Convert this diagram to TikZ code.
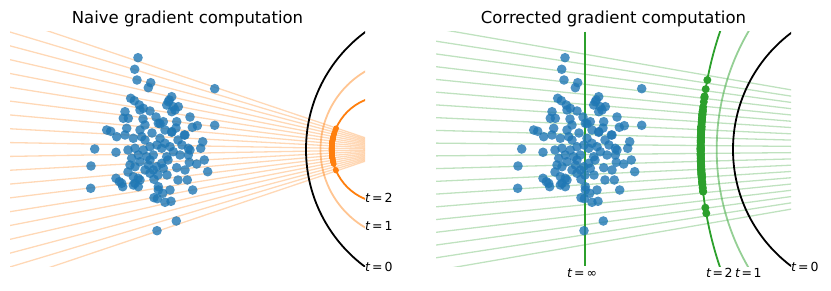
\documentclass[tikz,border=0pt]{standalone}
\usepackage{fontspec}
\setmainfont{DejaVu Sans}[ItalicFont={DejaVu Sans Oblique}]
\definecolor{tabblue}{HTML}{1F77B4}
\definecolor{taborange}{HTML}{FF7F0E}
\definecolor{tabgreen}{HTML}{2CA02C}
\def\cloud{138.0/57.7,134.7/69.3,137.0/80.0,150.7/82.7,148.3/87.7,214.7/88.7,214.7/125.3,94.7/149,91/166,90.7/188.3,116/152.3,176.3/221,157/230.7,207.7/171.7,204.3/160,200.7/148.3,202.7/141.7,192.7/190,187.3/180,190/117,197.3/125.7,192.3/127.3,196.7/164,189.3/162.3,176.7/167.7,165/202.3,171/201.3,154/197.7,157.3/198.7,158.3/190,162.7/193.3,116/178.3,119.3/181.7,122.7/186.7,135/183.3,138.3/186.7,154/179.3,188.3/155,190/150,130.7/98.3,134.3/100.7,139.3/105,143.3/108.3,125/111.7,123.3/118.3,128.3/118.3,140/110,150/111,106.7/130,110.7/131.3,116.7/136.7,126.7/128.3,125/135,140/130,145/125,171.7/96.7,168.3/101.7,166.7/105,173.3/106.7,178.3/106.7,171.7/111.7,175/110,169.3/100,158.3/123.3,163.3/121.7,176.7/121.7,171.7/131.7,185/135,188.3/148.3,133.3/138.3,141.7/136.7,160/138.3,165/143.3,170/146.7,173.3/151.7,161.7/148.3,135/148.3,138.3/155,143.3/150,150/146.7,153.3/155,146.7/156.7,140/161.7,131.7/158.3,130/165,135/166.7,166.7/156.7,161.7/163.3,156.7/166.7,163.3/168.3,153.3/170,150/173.3,148.3/165,121.7/183.3,133.3/176.7,138.3/178.3,140/180,133.3/185,158.3/186.7,171.7/132.3,184.3/135,160/123.7,145/140,152/133,157/145,178/140,182/145,168/160,145/170,128/150,180/155,176/128,150/160,158/175,167/175,128/172,185/170,143/119,156/117,165/130,178/180,170/190}
\begin{document}
\begin{tikzpicture}[x=1pt,y=-1pt,
  ray/.style={line width=1.3pt, draw opacity=0.3},
  arcline/.style={line width=1.8pt},
  datadot/.style={fill=tabblue, fill opacity=0.8},
  lbl/.style={font=\fontsize{12.5}{13}\selectfont, inner sep=0pt, anchor=base west},
  ttl/.style={font=\fontsize{16.5}{18}\selectfont, inner sep=0pt, anchor=base}]
\useasboundingbox (0,0) rectangle (831,291);
% ---------- left panel ----------
\node[ttl] (title1) at (187.5,23.3) {Naive gradient computation};
\coordinate (F1) at (400,149.5);
\begin{scope}
  \clip (10,31.7) rectangle (365,267);
  \foreach \k in {0,...,9} {
    \pgfmathsetmacro\dy{6.91+13.82*\k}
    \draw[ray, taborange] (10,{149.5-\dy}) -- (F1);
    \draw[ray, taborange] (10,{149.5+\dy}) -- (F1);
  }
  \draw[arcline, taborange, draw opacity=0.45] (411,149.5) circle[radius=90.5];
  \draw[arcline, taborange] (385,149.5) circle[radius=53.3];
  \foreach \px/\py in \cloud {
    \pgfmathsetmacro\fac{60/(392-\px)}
    \pgfmathsetmacro\yy{150+(\py-150)*\fac}
    \pgfmathsetmacro\xx{385-sqrt(53.3*53.3-(\yy-149.5)*(\yy-149.5))}
    \fill[taborange] (\xx,\yy) circle[radius=2.8];
  }
  \draw[arcline, black] (452,149.5) circle[radius=146];
\end{scope}
\foreach \px/\py in \cloud {
  \fill[datadot] (\px,\py) circle[radius=4.8];
}
\node[lbl] (l2) at (365,202.7) {\itshape t\upshape\kern2pt=\kern2pt2};
\node[lbl] (l1) at (365,230.7) {\itshape t\upshape\kern2pt=\kern2pt1};
\node[lbl] (l0) at (365,271.7) {\itshape t\upshape\kern2pt=\kern2pt0};
% ---------- right panel ----------
\node[ttl] (title2) at (613.5,23.3) {Corrected gradient computation};
\coordinate (F2) at (1136,149.5);
\begin{scope}
  \clip (436,31.7) rectangle (791,267);
  \foreach \k in {0,...,9} {
    \pgfmathsetmacro\dy{6.37+12.74*\k}
    \draw[ray, tabgreen] (436,{149.5-\dy}) -- (F2);
    \draw[ray, tabgreen] (436,{149.5+\dy}) -- (F2);
  }
  \coordinate (vtop) at (585,31.7);
  \coordinate (vbot) at (585,266);
  \draw[arcline, tabgreen] (vtop) -- (vbot);
  \draw[arcline, tabgreen, draw opacity=0.5] (951.7,149.5) circle[radius=235];
  \draw[arcline, tabgreen] (1068,149.5) circle[radius=367.3];
  \foreach \px/\py in \cloud {
    \pgfmathsetmacro\fac{433/(709-\px)}
    \pgfmathsetmacro\yy{150+(\py-150)*\fac}
    \pgfmathsetmacro\dd{(\yy-149.5)/100}
    \pgfmathsetmacro\xx{1068-100*sqrt(13.4909-\dd*\dd)}
    \fill[tabgreen] (\xx,\yy) circle[radius=4];
  }
  \draw[arcline, black] (879,149.5) circle[radius=146];
\end{scope}
\begin{scope}[xshift=427pt]
  \foreach \px/\py in \cloud {
    \fill[datadot] (\px,\py) circle[radius=4.8];
  }
\end{scope}
\node[lbl] (r0) at (791,271.7) {\itshape t\upshape\kern2pt=\kern2pt0};
\node[lbl] (r2) at (706,277.3) {\itshape t\upshape\kern1.5pt=\kern1.5pt2};
\node[lbl] (r1) at (735,277.3) {\itshape t\upshape\kern1.5pt=\kern1.5pt1};
\node[lbl] (rinf) at (567,277.3) {\itshape t\upshape\kern2pt=\kern2pt∞};
\end{tikzpicture}
\end{document}
